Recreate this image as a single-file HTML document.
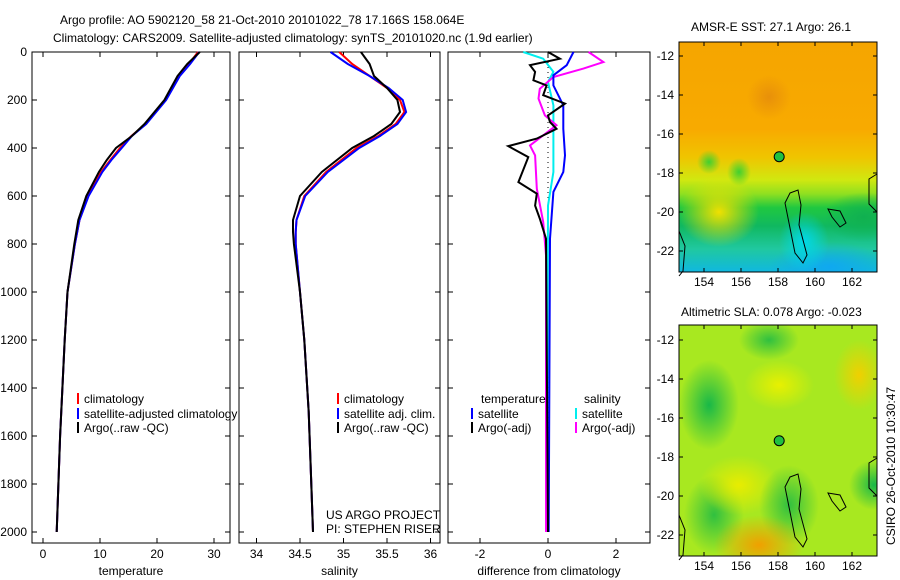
<!DOCTYPE html>
<html><head><meta charset="utf-8"><style>
body{margin:0;background:#fff;width:900px;height:580px;overflow:hidden;font-family:"Liberation Sans",sans-serif}
svg text{font-family:"Liberation Sans",sans-serif;font-size:12px;fill:#000}
.map{position:absolute;left:679px;width:198px;overflow:hidden}
</style></head><body>
<div class="map" style="top:42px;height:230px;background:
radial-gradient(ellipse 25px 30px at 125px 200px,#00d8e8,transparent),
radial-gradient(ellipse 60px 25px at 150px 225px,#10a8f0,transparent),
radial-gradient(ellipse 22px 22px at 90px 55px,#e8900a,transparent),
radial-gradient(ellipse 40px 35px at 40px 170px,#f0e000,transparent),
radial-gradient(ellipse 12px 12px at 30px 120px,#40d030,transparent),
radial-gradient(ellipse 12px 14px at 60px 130px,#40d030,transparent),
radial-gradient(ellipse 40px 25px at 185px 175px,#10b050,transparent),
linear-gradient(180deg,#f5a500 0%,#f8aa00 38%,#f0c400 50%,#d0e810 60%,#90e020 66%,#20c840 72%,#10b860 80%,#20c8a0 90%,#10b8e0 100%)"></div>
<div class="map" style="top:325px;height:231px;background:
radial-gradient(ellipse 30px 45px at 30px 80px,#18b848,transparent),
radial-gradient(ellipse 25px 25px at 195px 160px,#18b848,transparent),
radial-gradient(ellipse 25px 35px at 180px 50px,#f0d000,transparent),
radial-gradient(ellipse 45px 30px at 80px 220px,#f0a000,transparent),
radial-gradient(ellipse 30px 40px at 110px 180px,#30c040,transparent),
radial-gradient(ellipse 40px 30px at 60px 160px,#e8ec00,transparent),
radial-gradient(ellipse 30px 40px at 35px 190px,#30c040,transparent),
radial-gradient(ellipse 35px 25px at 100px 60px,#e8f000,transparent),
radial-gradient(ellipse 30px 20px at 90px 15px,#30c040,transparent),
#a8e820"></div>
<svg width="900" height="580" style="position:absolute;left:0;top:0" id="s">
<text x="60" y="24" font-size="13">Argo profile: AO 5902120_58 21-Oct-2010 20101022_78 17.166S 158.064E</text>
<text x="53" y="42" font-size="13">Climatology: CARS2009. Satellite-adjusted climatology: synTS_20101020.nc (1.9d earlier)</text>
<text x="691" y="31">AMSR-E SST: 27.1 Argo: 26.1</text>
<text x="681" y="316">Altimetric SLA: 0.078 Argo: -0.023</text>
<text transform="translate(895,545) rotate(-90)">CSIRO 26-Oct-2010 10:30:47</text>
<g id="g"></g>
</svg>
<script>
const depthsT=[0,50,100,200,300,350,400,450,500,600,700,800,1000,1200,1400,1600,1800,2000];
const argoT=[27.5,25.3,23.6,21.3,17.8,15.6,12.8,11.2,9.8,7.6,6.2,5.5,4.3,3.8,3.4,3.0,2.7,2.4];
const climT=[27.2,25.6,23.8,21.4,18,15.5,13.5,11.8,10.2,7.9,6.4,5.6,4.3,3.8,3.4,3.0,2.7,2.4];
const satT=[27.4,25.8,24,21.6,18.1,15.6,13.8,12,10.4,8,6.4,5.6,4.3,3.8,3.4,3.0,2.7,2.4];
const depthsS=[0,50,100,150,200,250,300,350,400,500,600,700,750,800,1000,1200,1500,1800,2000];
const argoS=[35.2,35.3,35.35,35.5,35.62,35.65,35.55,35.35,35.1,34.75,34.5,34.42,34.42,34.43,34.5,34.55,34.6,34.63,34.65];
const climS=[34.95,35.1,35.3,35.5,35.65,35.7,35.6,35.4,35.15,34.8,34.55,34.46,34.45,34.45,34.5,34.55,34.6,34.63,34.65];
const satS=[34.85,35.05,35.3,35.52,35.68,35.72,35.62,35.42,35.18,34.82,34.56,34.46,34.45,34.45,34.5,34.55,34.6,34.63,34.65];
const dA=[0,28,55,83,118,139,180,215,264,292,320,361,392,438,542,590,640,694,778,2000];
const argoTd=[0,0.35,-0.53,-0.38,-0.43,-0.04,-0.14,0.5,0,0.06,0.25,-0.33,-1.17,-0.58,-0.87,-0.33,-0.38,-0.24,-0.06,0];
const dB=[0,55,97,139,222,320,431,500,583,778,2000];
const satTd=[0.75,0.55,0.16,0.16,0.45,0.45,0.5,0.45,0.16,0.06,0.02];
const dM=[0,42,69,104,153,194,264,305,389,431,569,708,847,2000];
const argoSd=[1.19,1.63,1.04,0.16,-0.24,-0.28,-0.09,0.25,-0.53,-0.38,-0.33,-0.14,-0.06,-0.06];
const dC=[0,28,83,125,222,361,500,640,2000];
const satSd=[-0.73,-0.14,0.16,0,0.16,0.16,0.16,0,-0.03];
const yTicks=[0,200,400,600,800,1000,1200,1400,1600,1800,2000];
const ns="http://www.w3.org/2000/svg",g=document.getElementById('g');
const Y=d=>52+d*0.24;
function el(t,a){const e=document.createElementNS(ns,t);for(const k in a)e.setAttribute(k,a[k]);g.appendChild(e);return e;}
function txt(x,y,s,anc){const e=el('text',{x:x,y:y,'text-anchor':anc||'start'});e.textContent=s;return e;}
function panel(x0,x1,X,xt,lab,name){
 const r=el('rect',{x:x0,y:52,width:x1-x0,height:491,fill:'none',stroke:'#000'});
 
 xt.forEach(v=>{const x=X(v);el('line',{x1:x,x2:x,y1:543,y2:538,stroke:'#000'});el('line',{x1:x,x2:x,y1:52,y2:57,stroke:'#000'});const t=txt(x,558,String(v),'middle');});
 yTicks.forEach(d=>{el('line',{x1:x0,x2:x0+5,y1:Y(d),y2:Y(d),stroke:'#000'});el('line',{x1:x1,x2:x1-5,y1:Y(d),y2:Y(d),stroke:'#000'});});
 const t=txt((x0+x1)/2,575,lab,'middle');
}
function line(ds,vs,X,c,name,w){const p=ds.map((d,i)=>X(vs[i]).toFixed(1)+','+Y(d).toFixed(1)).join(' ');const e=el('polyline',{points:p,fill:'none',stroke:c,'stroke-width':w||2});

}
function leg(x,y,c,s,name){el('line',{x1:x,x2:x,y1:y-10,y2:y+1,stroke:c,'stroke-width':2});const t=txt(x+6,y,s);

}
const XT=v=>43+v*5.7;
panel(32,230,XT,[0,10,20,30],'temperature','temperature-panel');
yTicks.forEach(d=>{const t=txt(27,Y(d)+4,String(d),'end');});
line(depthsT,climT,XT,'#f00','temp-climatology-line');
line(depthsT,satT,XT,'#00f','temp-satellite-line');
line(depthsT,argoT,XT,'#000','temp-argo-line');
leg(78,403,'#f00','climatology','legend-climatology');leg(78,418,'#00f','satellite-adjusted climatology','legend-satellite');leg(78,432,'#000','Argo(..raw -QC)','legend-argo');
const XS=v=>300+(v-34.5)*87;
panel(239,440,XS,[34,34.5,35,35.5,36],'salinity','salinity-panel');
line(depthsS,climS,XS,'#f00','sal-climatology-line');
line(depthsS,satS,XS,'#00f','sal-satellite-line');
line(depthsS,argoS,XS,'#000','sal-argo-line');
leg(338,403,'#f00','climatology','legend-sal-climatology');leg(338,418,'#00f','satellite adj. clim.','legend-sal-satellite');leg(338,432,'#000','Argo(..raw -QC)','legend-sal-argo');
let t=txt(326,519,'US ARGO PROJECT');
t=txt(326,533,'PI: STEPHEN RISER');
const XD=v=>548+v*34;
panel(448,650,XD,[-2,0,2],'difference from climatology','diff-panel');
el('line',{x1:548,x2:548,y1:52,y2:532,stroke:'#000','stroke-dasharray':'1,4'});
line(dC,satSd,XD,'#0ee','sal-diff-satellite-line');
line(dM,argoSd,XD,'#f0f','sal-diff-argo-line');
line(dB,satTd,XD,'#00f','temp-diff-satellite-line');
line(dA,argoTd,XD,'#000','temp-diff-argo-line');
t=txt(481,403,'temperature');
t=txt(584,403,'salinity');
leg(472,418,'#00f','satellite','legend-diff-temp-sat');leg(472,432,'#000','Argo(-adj)','legend-diff-temp-argo');
leg(576,418,'#0ee','satellite','legend-diff-sal-sat');leg(576,432,'#f0f','Argo(-adj)','legend-diff-sal-argo');
const lonT=[154,156,158,160,162],latT=[-12,-14,-16,-18,-20,-22];
function mapAx(top,bot,lat0,name){
 el('rect',{x:679,y:top,width:198,height:bot-top,fill:'none',stroke:'#000'});
 lonT.forEach(v=>{const x=704+(v-154)*18.5;el('line',{x1:x,x2:x,y1:bot,y2:bot-4,stroke:'#000'});el('line',{x1:x,x2:x,y1:top,y2:top+4,stroke:'#000'});const e=txt(x,bot+14,String(v),'middle');});
 latT.forEach(v=>{const y=lat0+(-12-v)*19.5;el('line',{x1:679,x2:683,y1:y,y2:y,stroke:'#000'});el('line',{x1:877,x2:873,y1:y,y2:y,stroke:'#000'});const e=txt(674,y+4,String(v),'end');});
 const c=el('circle',{cx:704+4.064*18.5,cy:lat0+5.166*19.5,r:5,fill:'#20c040',stroke:'#000'});
 
 el('path',{d:`M${790},${lat0+137} l8,-3 l3,15 l-2,20 l8,30 l-4,8 l-8,-10 l-6,-30 l-4,-20z`,fill:'none',stroke:'#000'});
 el('path',{d:`M${828},${lat0+153} l12,2 l6,12 l-6,4 l-8,-10z`,fill:'none',stroke:'#000'});
 el('path',{d:`M${877},${lat0+118} l-8,5 l0,25 l8,8`,fill:'none',stroke:'#000'});
 el('path',{d:`M${679},${lat0+175} l6,15 l-2,25 l-4,5`,fill:'none',stroke:'#000'});
}
mapAx(42,272,56,'sst-map');mapAx(325,556,340,'sla-map');
</script>
</body></html>
